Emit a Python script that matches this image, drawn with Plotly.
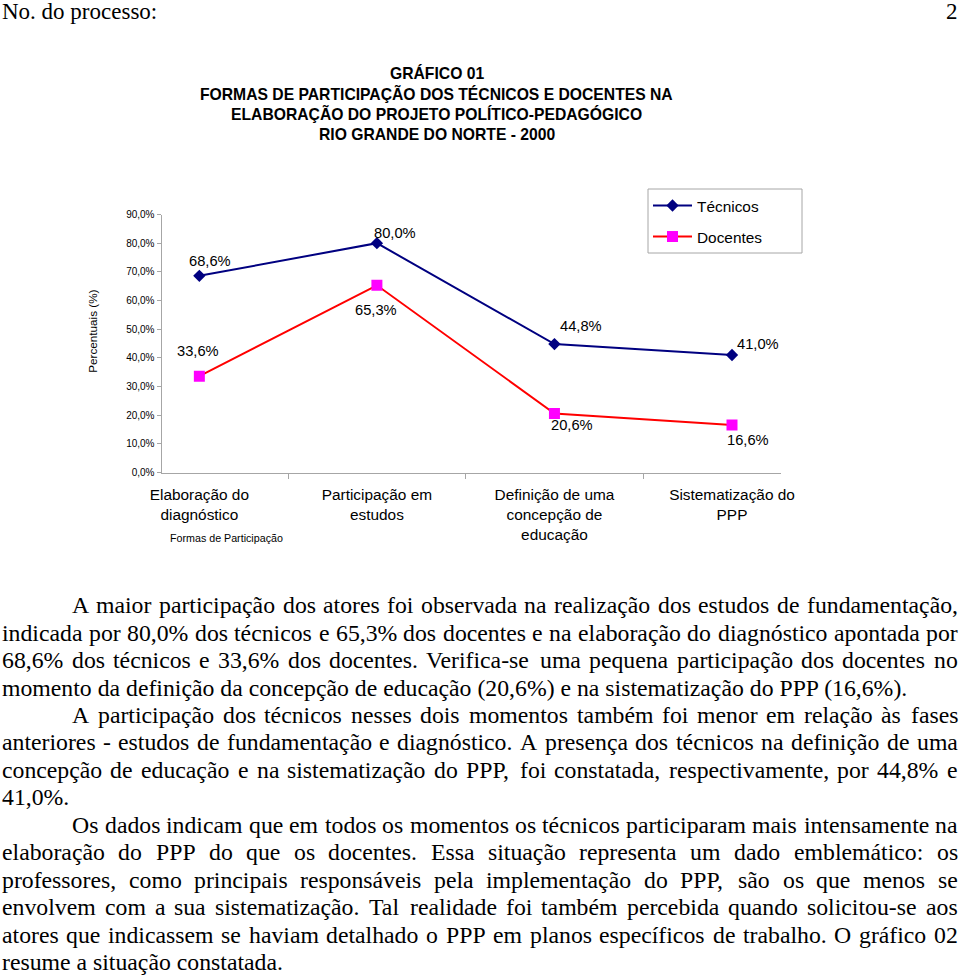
import unicodedata
import plotly.graph_objects as go

# ---------------- data ----------------
categories = ["Elaboração do<br>diagnóstico", "Participação em<br>estudos",
              "Definição de uma<br>concepção de<br>educação", "Sistematização do<br>PPP"]
tecnicos = [68.6, 80.0, 44.8, 41.0]
docentes = [33.6, 65.3, 20.6, 16.6]
y_ticks = [0, 10, 20, 30, 40, 50, 60, 70, 80, 90]
y_tick_labels = ["0,0%", "10,0%", "20,0%", "30,0%", "40,0%", "50,0%", "60,0%", "70,0%", "80,0%", "90,0%"]

title_lines = ["GRÁFICO 01",
               "FORMAS DE PARTICIPAÇÃO DOS TÉCNICOS E DOCENTES NA",
               "ELABORAÇÃO DO PROJETO POLÍTICO-PEDAGÓGICO",
               "RIO GRANDE DO NORTE - 2000"]

# paragraphs: list of lines (last line of each paragraph is not justified)
paragraphs = [
    ["A maior participação dos atores foi observada na realização dos estudos de fundamentação,",
     "indicada por 80,0% dos técnicos e 65,3% dos docentes e na elaboração do diagnóstico apontada por",
     "68,6% dos técnicos e 33,6% dos docentes. Verifica-se uma pequena participação dos docentes no",
     "momento da definição da concepção de educação (20,6%) e na sistematização do PPP (16,6%)."],
    ["A participação dos técnicos nesses dois momentos também foi menor em relação às fases",
     "anteriores - estudos de fundamentação e diagnóstico. A presença dos técnicos na definição de uma",
     "concepção de educação e na sistematização do PPP, foi constatada, respectivamente, por 44,8% e",
     "41,0%."],
    ["Os dados indicam que em todos os momentos os técnicos participaram mais intensamente na",
     "elaboração do PPP do que os docentes. Essa situação representa um dado emblemático: os",
     "professores, como principais responsáveis pela implementação do PPP, são os que menos se",
     "envolvem com a sua sistematização. Tal realidade foi também percebida quando solicitou-se aos",
     "atores que indicassem se haviam detalhado o PPP em planos específicos de trabalho. O gráfico 02",
     "resume a situação constatada."],
]

# ---------------- styling / geometry ----------------
W, H = 960, 975
def px(x):
    return x / W
def py(y):
    return 1 - y / H

SANS = "Liberation Sans, Arial, sans-serif"
SERIF = "Liberation Serif, Times New Roman, serif"
AXIS_GRAY = "#a6a6a6"

# data-label pixel offsets (dx right, dy down) relative to the point
tec_offsets = [(11, -15), (18, -10), (27, -18), (26, -11)]
doc_offsets = [(-1, -25), (-1, 25), (18, 12), (16, 15)]

def fmt(v):
    return f"{v:.1f}".replace(".", ",") + "%"

fig = go.Figure()
fig.add_trace(go.Scatter(
    x=categories, y=tecnicos, mode="lines+markers", name="Técnicos",
    line=dict(color="#000080", width=2),
    marker=dict(symbol="diamond", size=9.5, color="#000080"),
    legendgroup="t"))
fig.add_trace(go.Scatter(
    x=categories, y=docentes, mode="lines+markers", name="Docentes",
    line=dict(color="#FF0000", width=2),
    marker=dict(symbol="square", size=11, color="#FF00FF"),
    legendgroup="d"))

annotations = []
for vals, offs in ((tecnicos, tec_offsets), (docentes, doc_offsets)):
    for c, v, (dx, dy) in zip(categories, vals, offs):
        annotations.append(dict(x=c, y=v, xref="x", yref="y", text=fmt(v),
                                showarrow=False, xshift=dx, yshift=-dy,
                                font=dict(family=SANS, size=14.7, color="black")))

# title
title_y = [73, 93.3, 113.5, 134]
for t, yy in zip(title_lines, title_y):
    annotations.append(dict(x=px(436.5), y=py(yy), xref="paper", yref="paper",
                            text=f"<b>{t}</b>", showarrow=False, xanchor="center", yanchor="middle",
                            font=dict(family=SANS, size=15.7, color="black")))

# axis titles
annotations.append(dict(x=px(93), y=py(331.7), xref="paper", yref="paper", text="Percentuais (%)",
                        textangle=-90, showarrow=False, xanchor="center", yanchor="middle",
                        font=dict(family=SANS, size=11.7, color="black")))
annotations.append(dict(x=px(226.5), y=py(537.7), xref="paper", yref="paper", text="Formas de Participação",
                        showarrow=False, xanchor="center", yanchor="middle",
                        font=dict(family=SANS, size=10.7, color="black")))

# page header
HF = 23
annotations.append(dict(x=px(2), y=py(19 - 0.3375 * HF), xref="paper", yref="paper", text="No. do processo:",
                        showarrow=False, xanchor="left", yanchor="middle", borderpad=0, borderwidth=0,
                        font=dict(family=SERIF, size=HF, color="black")))
annotations.append(dict(x=px(958), y=py(19 - 0.3375 * HF), xref="paper", yref="paper", text="2",
                        showarrow=False, xanchor="right", yanchor="middle", borderpad=0, borderwidth=0,
                        font=dict(family=SERIF, size=HF, color="black")))

# ---------------- body text (justified) ----------------
TW = {' ': 250, '!': 333, '%': 833, '(': 333, ')': 333, ',': 250, '-': 333, '.': 250, ':': 278,
      'A': 722, 'B': 667, 'C': 667, 'D': 722, 'E': 611, 'F': 556, 'G': 722, 'H': 722, 'I': 333,
      'J': 389, 'K': 722, 'L': 611, 'M': 889, 'N': 722, 'O': 722, 'P': 556, 'Q': 722, 'R': 667,
      'S': 556, 'T': 611, 'U': 722, 'V': 722, 'W': 944, 'X': 722, 'Y': 722, 'Z': 611,
      'a': 444, 'b': 500, 'c': 444, 'd': 500, 'e': 444, 'f': 333, 'g': 500, 'h': 500, 'i': 278,
      'j': 278, 'k': 500, 'l': 278, 'm': 778, 'n': 500, 'o': 500, 'p': 500, 'q': 500, 'r': 333,
      's': 389, 't': 278, 'u': 500, 'v': 500, 'w': 722, 'x': 500, 'y': 500, 'z': 444}

def tw(s, size):
    tot = 0
    for ch in s:
        b = unicodedata.normalize("NFD", ch)[0]
        tot += TW.get(b, 500)
    return tot * size / 1000.0

BF = 23.75
LEFT, INDENT, RIGHT = 2, 72, 957.5
BASE0, PITCH = 613.2, 27.45
li = 0
for para in paragraphs:
    for k, line in enumerate(para):
        base = BASE0 + PITCH * li
        ymid = py(base - 0.3375 * BF)
        x0 = INDENT if k == 0 else LEFT
        last = (k == len(para) - 1)
        fnt = dict(family=SERIF, size=BF, color="black")
        if last:
            annotations.append(dict(x=px(x0), y=ymid, xref="paper", yref="paper", text=line,
                                    showarrow=False, xanchor="left", yanchor="middle",
                                    borderpad=0, borderwidth=0, font=fnt))
        else:
            words = line.split(" ")
            widths = [tw(w, BF) for w in words]
            gap = (RIGHT - x0 - sum(widths)) / (len(words) - 1)
            xx = x0
            for j, (w, wd) in enumerate(zip(words, widths)):
                if j == len(words) - 1:
                    annotations.append(dict(x=px(RIGHT), y=ymid, xref="paper", yref="paper", text=w,
                                            showarrow=False, xanchor="right", yanchor="middle",
                                            borderpad=0, borderwidth=0, font=fnt))
                else:
                    annotations.append(dict(x=px(xx), y=ymid, xref="paper", yref="paper", text=w,
                                            showarrow=False, xanchor="left", yanchor="middle",
                                            borderpad=0, borderwidth=0, font=fnt))
                xx += wd + gap
        li += 1

fig.update_layout(
    width=W, height=H, margin=dict(l=0, r=0, t=0, b=0, autoexpand=False),
    paper_bgcolor="white", plot_bgcolor="white",
    xaxis=dict(domain=[px(161.5), px(781)], type="category", showline=True, linecolor=AXIS_GRAY,
               linewidth=1, ticks="outside", tickson="boundaries", ticklen=5, tickcolor=AXIS_GRAY,
               tickfont=dict(family=SANS, size=15.4, color="black"), showgrid=False, zeroline=False,
               fixedrange=True, automargin=False, ticklabelstandoff=8),
    yaxis=dict(domain=[py(472.5), py(214.5)], range=[0, 90], tickvals=y_ticks, ticktext=y_tick_labels,
               showline=True, linecolor=AXIS_GRAY, linewidth=1, ticks="outside", ticklen=4,
               tickcolor=AXIS_GRAY, tickfont=dict(family=SANS, size=10, color="black"),
               showgrid=False, zeroline=False, fixedrange=True, automargin=False),
    showlegend=True,
    legend=dict(x=px(648), y=py(189), xanchor="left", yanchor="top", bgcolor="rgba(0,0,0,0)",
                borderwidth=0, font=dict(family=SANS, size=15.4, color="black"),
                tracegroupgap=8, itemwidth=39, traceorder="grouped"),
    shapes=[dict(type="rect", xref="paper", yref="paper", x0=px(648), x1=px(802), y0=py(253), y1=py(189),
                 line=dict(color=AXIS_GRAY, width=1), fillcolor="rgba(0,0,0,0)", layer="below")],
    annotations=annotations,
)

fig.write_html("out.html", config={"displayModeBar": False},
               post_script="document.body.style.margin='0';document.body.style.overflow='hidden';")
